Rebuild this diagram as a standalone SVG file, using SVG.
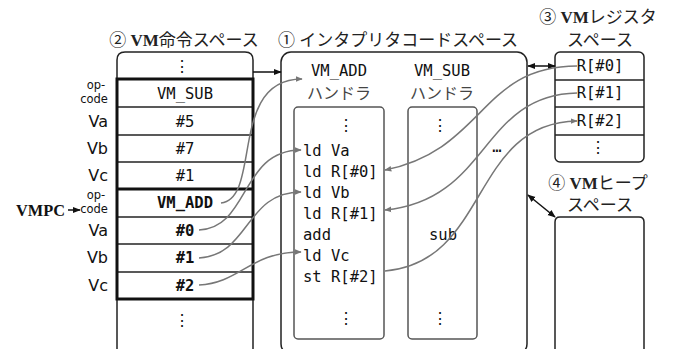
<svg xmlns="http://www.w3.org/2000/svg" width="674" height="349" viewBox="0 0 674 349">
<style>
.t{font-family:"Liberation Serif","Noto Sans CJK JP",serif;font-size:17px;fill:#222}
.m{font-family:"DejaVu Sans Mono",monospace;font-size:15.5px;fill:#111}
.mb{font-family:"DejaVu Sans Mono",monospace;font-size:15.5px;font-weight:bold;fill:#111}
.s{font-family:"DejaVu Sans",sans-serif;font-size:16px;fill:#111}
.ss{font-family:"DejaVu Sans",sans-serif;font-size:11.5px;fill:#111}
.k{font-family:"Noto Sans CJK JP",sans-serif;font-size:16px;fill:#444}
.box{fill:none;stroke:#222;stroke-width:1.5}
.gbox{fill:none;stroke:#555;stroke-width:1.5}
.row{stroke:#222;stroke-width:1.5}
.thick{fill:none;stroke:#111;stroke-width:3}
.g{fill:none;stroke:#777;stroke-width:1.5}
.b{fill:none;stroke:#111;stroke-width:1.5}
</style>
<defs>
<marker id="ga" viewBox="0 0 10 10" refX="9" refY="5" markerWidth="7" markerHeight="7" orient="auto-start-reverse" markerUnits="userSpaceOnUse"><path d="M0,1 L10,5 L0,9 z" fill="#777"/></marker>
<marker id="ba" viewBox="0 0 10 10" refX="9" refY="5" markerWidth="8" markerHeight="8" orient="auto-start-reverse" markerUnits="userSpaceOnUse"><path d="M0,1 L10,5 L0,9 z" fill="#111"/></marker>
</defs>

<g id="titles">
<text class="t" x="184" y="46" text-anchor="middle">② <tspan font-weight="bold">VM</tspan>命令スペース</text>
<text class="t" x="398" y="46" text-anchor="middle">① インタプリタコードスペース</text>
<text class="t" x="598" y="23" text-anchor="middle">③ <tspan font-weight="bold">VM</tspan>レジスタ</text>
<text class="t" x="600" y="46" text-anchor="middle">スペース</text>
<text class="t" x="598" y="189" text-anchor="middle">④ <tspan font-weight="bold">VM</tspan>ヒープ</text>
<text class="t" x="600" y="211" text-anchor="middle">スペース</text>
</g>

<g id="vm-instruction-space">
<path class="box" d="M117,352 V60 Q117,52 125,52 H245 Q253,52 253,60 V352"/>
<text class="m" x="182" y="72" text-anchor="middle">⋮</text>
<line class="row" x1="117" y1="107" x2="253" y2="107"/>
<line class="row" x1="117" y1="135" x2="253" y2="135"/>
<line class="row" x1="117" y1="162" x2="253" y2="162"/>
<line class="row" x1="117" y1="217" x2="253" y2="217"/>
<line class="row" x1="117" y1="244" x2="253" y2="244"/>
<line class="row" x1="117" y1="272" x2="253" y2="272"/>
<rect class="thick" x="117" y="79" width="136" height="220"/>
<line class="thick" x1="117" y1="189" x2="253" y2="189"/>
<text class="m" x="185" y="99" text-anchor="middle">VM_SUB</text>
<text class="m" x="185" y="127" text-anchor="middle">#5</text>
<text class="m" x="185" y="154" text-anchor="middle">#7</text>
<text class="m" x="185" y="181" text-anchor="middle">#1</text>
<text class="mb" x="185" y="208" text-anchor="middle">VM_ADD</text>
<text class="mb" x="185" y="236" text-anchor="middle">#0</text>
<text class="mb" x="185" y="263" text-anchor="middle">#1</text>
<text class="mb" x="185" y="291" text-anchor="middle">#2</text>
<text class="m" x="182" y="326" text-anchor="middle">⋮</text>
</g>

<g id="row-labels">
<text class="ss" x="96" y="89" text-anchor="middle">op-</text>
<text class="ss" x="94" y="103" text-anchor="middle">code</text>
<text class="s" x="108" y="127" text-anchor="end">Va</text>
<text class="s" x="108" y="154" text-anchor="end">Vb</text>
<text class="s" x="108" y="181" text-anchor="end">Vc</text>
<text class="ss" x="96" y="199" text-anchor="middle">op-</text>
<text class="ss" x="94" y="213" text-anchor="middle">code</text>
<text class="s" x="108" y="236" text-anchor="end">Va</text>
<text class="s" x="108" y="263" text-anchor="end">Vb</text>
<text class="s" x="108" y="291" text-anchor="end">Vc</text>
</g>

<g id="vmpc">
<text x="16" y="216" font-family="Liberation Serif,serif" font-size="17" font-weight="bold" fill="#111" textLength="49" lengthAdjust="spacingAndGlyphs">VMPC</text>
</g>

<g id="interpreter-space">
<rect class="box" x="281" y="52" width="246" height="302" rx="10"/>
<text class="m" x="339" y="76" text-anchor="middle">VM_ADD</text>
<text class="k" x="339" y="99" text-anchor="middle">ハンドラ</text>
<text class="m" x="442" y="76" text-anchor="middle">VM_SUB</text>
<text class="k" x="442" y="99" text-anchor="middle">ハンドラ</text>
<text class="m" x="497" y="152" text-anchor="middle">…</text>
</g>

<g id="vm-add-handler">
<rect class="gbox" x="294" y="107" width="90" height="232" rx="4"/>
<text class="m" x="346" y="131" text-anchor="middle">⋮</text>
<text class="m" x="303" y="156">ld Va</text>
<text class="m" x="303" y="177">ld R[#0]</text>
<text class="m" x="303" y="198">ld Vb</text>
<text class="m" x="303" y="219">ld R[#1]</text>
<text class="m" x="303" y="240">add</text>
<text class="m" x="303" y="261">ld Vc</text>
<text class="m" x="303" y="282">st R[#2]</text>
<text class="m" x="346" y="324" text-anchor="middle">⋮</text>
</g>

<g id="vm-sub-handler">
<rect class="gbox" x="408" y="107" width="69" height="232" rx="4"/>
<text class="m" x="440" y="131" text-anchor="middle">⋮</text>
<text class="m" x="443" y="240" text-anchor="middle">sub</text>
<text class="m" x="440" y="324" text-anchor="middle">⋮</text>
</g>

<g id="vm-register-space">
<rect class="box" x="555" y="52" width="89" height="110" rx="5"/>
<line class="row" x1="555" y1="80" x2="644" y2="80"/>
<line class="row" x1="555" y1="107" x2="644" y2="107"/>
<line class="row" x1="555" y1="135" x2="644" y2="135"/>
<text class="m" x="600" y="71" text-anchor="middle">R[#0]</text>
<text class="m" x="600" y="98" text-anchor="middle">R[#1]</text>
<text class="m" x="600" y="126" text-anchor="middle">R[#2]</text>
<text class="m" x="598" y="153" text-anchor="middle">⋮</text>
</g>

<g id="vm-heap-space">
<path class="box" d="M555,352 V222 Q555,217 560,217 H639 Q644,217 644,222 V352"/>
</g>

<g id="connectors">
<line class="b" x1="68" y1="210" x2="80" y2="210" marker-end="url(#ba)"/>
<line class="b" x1="253" y1="72" x2="281" y2="72" marker-end="url(#ba)"/>
<line class="b" x1="528" y1="66" x2="555" y2="66" marker-start="url(#ba)" marker-end="url(#ba)"/>
<line class="b" x1="528" y1="195" x2="555" y2="217" marker-start="url(#ba)" marker-end="url(#ba)"/>
<path class="g" d="M221,203 C262,198 228,79 302,79" marker-end="url(#ga)"/>
<path class="g" d="M199,230 C250,228 240,150 301,150" marker-end="url(#ga)"/>
<path class="g" d="M199,258 C250,255 245,192 301,192" marker-end="url(#ga)"/>
<path class="g" d="M199,285 C240,283 250,252 301,252" marker-end="url(#ga)"/>
<path class="g" d="M577,66 C480,66 485,150 385,170" marker-end="url(#ga)"/>
<path class="g" d="M577,93 C480,95 490,200 385,210" marker-end="url(#ga)"/>
<path class="g" d="M385,271 C490,262 470,123 577,121" marker-end="url(#ga)"/>
</g>
</svg>
